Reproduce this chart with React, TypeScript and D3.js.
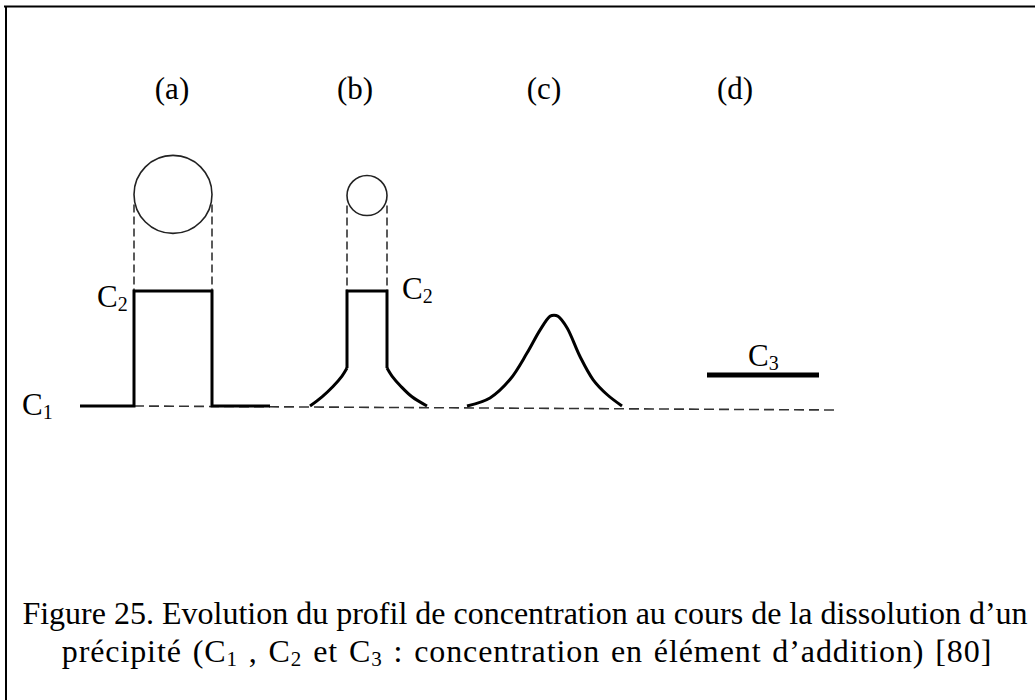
import React, { useEffect, useRef } from 'react';
import * as d3 from 'd3';

// distance units along the profile, concentration relative to C2 (C1 = 0, C2 = 1)
const panelLabels = ['(a)', '(b)', '(c)', '(d)'];
const panelCenters = [92, 275, 464, 655];

const profileA: [number, number][] = [[0, 0], [54, 0], [54, 1], [132, 1], [132, 0], [190, 0]];
const stemB: [number, number][] = [[267, 0.33], [267, 1], [307, 1], [307, 0.33]];
const flareLeftB: [number, number][] = [[230, 0], [242, 0.08], [253, 0.17], [262, 0.26], [267, 0.33]];
const flareRightB: [number, number][] = [[307, 0.33], [312, 0.26], [321, 0.17], [332, 0.08], [347, 0]];
const profileC: [number, number][] = [
  [387, 0], [410, 0.07], [430, 0.23], [447, 0.46], [460, 0.66], [470, 0.78],
  [474, 0.79], [478, 0.78], [487, 0.68], [500, 0.43], [513, 0.23], [527, 0.1], [542, 0],
];
const profileD: [number, number][] = [[627, 0.27], [739, 0.27]];
const baselineDash: [number, number][] = [[54, 0], [758, -0.035]];

const precipitates = [
  { center: 93, diameter: 78, height: 1.84 },
  { center: 287, diameter: 40, height: 1.83 },
];

const concLabels = [
  { base: 'C', sub: '1', x: -58, c: -0.08 },
  { base: 'C', sub: '2', x: 17, c: 0.86 },
  { base: 'C', sub: '2', x: 322, c: 0.93 },
  { base: 'C', sub: '3', x: 668, c: 0.35 },
];

const captionLine1 = 'Figure 25. Evolution du profil de concentration au cours de la dissolution d\u2019un';
const captionLine2 = [
  { t: 'précipité (C', sub: false },
  { t: '1', sub: true },
  { t: ' , C', sub: false },
  { t: '2', sub: true },
  { t: ' et C', sub: false },
  { t: '3', sub: true },
  { t: ' : concentration en élément d\u2019addition) [80]', sub: false },
];

const W = 1035;
const H = 700;

const App: React.FC = () => {
  const svgRef = useRef<SVGSVGElement>(null);

  useEffect(() => {
    if (!svgRef.current) return;
    const svg = d3.select(svgRef.current);
    svg.selectAll('*').remove();

    const font = '"Liberation Serif", "Times New Roman", serif';

    const x = d3.scaleLinear().domain([0, 760]).range([80, 840]);
    const y = d3.scaleLinear().domain([0, 1]).range([406, 291]);

    // frame
    svg.append('line').attr('x1', 4).attr('x2', W).attr('y1', 6.5).attr('y2', 6.5)
      .attr('stroke', '#000').attr('stroke-width', 2);
    svg.append('line').attr('x1', 6).attr('x2', 6).attr('y1', 6).attr('y2', H)
      .attr('stroke', '#000').attr('stroke-width', 2);

    // panel labels
    svg.selectAll('.panel')
      .data(panelLabels)
      .enter()
      .append('text')
      .attr('x', (_, i) => x(panelCenters[i]))
      .attr('y', 99)
      .attr('text-anchor', 'middle')
      .attr('font-family', font)
      .attr('font-size', 31)
      .text(d => d);

    const line = d3.line<[number, number]>().x(d => x(d[0])).y(d => y(d[1]));
    const smooth = d3.line<[number, number]>().x(d => x(d[0])).y(d => y(d[1])).curve(d3.curveCatmullRom);

    // dashed baseline
    svg.append('path').attr('d', line(baselineDash)!)
      .attr('fill', 'none').attr('stroke', '#333').attr('stroke-width', 1.6)
      .attr('stroke-dasharray', '10,5');

    // precipitates + dashed projections
    precipitates.forEach(p => {
      const r = (x(p.diameter) - x(0)) / 2;
      const cy = y(p.height);
      svg.append('circle').attr('cx', x(p.center)).attr('cy', cy).attr('r', r)
        .attr('fill', 'none').attr('stroke', '#222').attr('stroke-width', 1.6);
      [p.center - p.diameter / 2, p.center + p.diameter / 2].forEach(px => {
        svg.append('line').attr('x1', x(px)).attr('x2', x(px))
          .attr('y1', cy + 10).attr('y2', y(1))
          .attr('stroke', '#333').attr('stroke-width', 1.6)
          .attr('stroke-dasharray', '8,4');
      });
    });

    // profiles
    const solid = (d: string, w = 3) =>
      svg.append('path').attr('d', d).attr('fill', 'none').attr('stroke', '#000')
        .attr('stroke-width', w).attr('stroke-linejoin', 'miter');
    solid(line(profileA)!);
    solid(line(stemB)!);
    solid(smooth(flareLeftB)!);
    solid(smooth(flareRightB)!);
    solid(smooth(profileC)!);
    solid(line(profileD)!, 5);

    // concentration labels
    concLabels.forEach(l => {
      const t = svg.append('text')
        .attr('x', x(l.x)).attr('y', y(l.c))
        .attr('font-family', font).attr('font-size', 31);
      t.append('tspan').text(l.base);
      t.append('tspan').attr('font-size', 20).attr('dy', 4).text(l.sub);
    });

    // caption
    svg.append('text')
      .attr('font-family', font).attr('font-size', 32).attr('text-anchor', 'middle')
      .attr('x', 525).attr('y', 624).text(captionLine1);
    const l2 = svg.append('text')
      .attr('font-family', font).attr('font-size', 32).attr('text-anchor', 'middle')
      .attr('letter-spacing', 0.9).attr('word-spacing', 2)
      .attr('x', 527).attr('y', 662);
    captionLine2.forEach((s, i) => {
      const prevSub = i > 0 && captionLine2[i - 1].sub;
      l2.append('tspan')
        .attr('font-size', s.sub ? 21 : 32)
        .attr('dy', s.sub ? 4 : prevSub ? -4 : 0)
        .text(s.t);
    });
  }, []);

  return (
    <div style={{ position: 'absolute', left: 0, top: 0, width: W, height: H, background: '#fff' }}>
      <svg ref={svgRef} width={W} height={H} style={{ display: 'block' }}></svg>
    </div>
  );
};

export default App;
